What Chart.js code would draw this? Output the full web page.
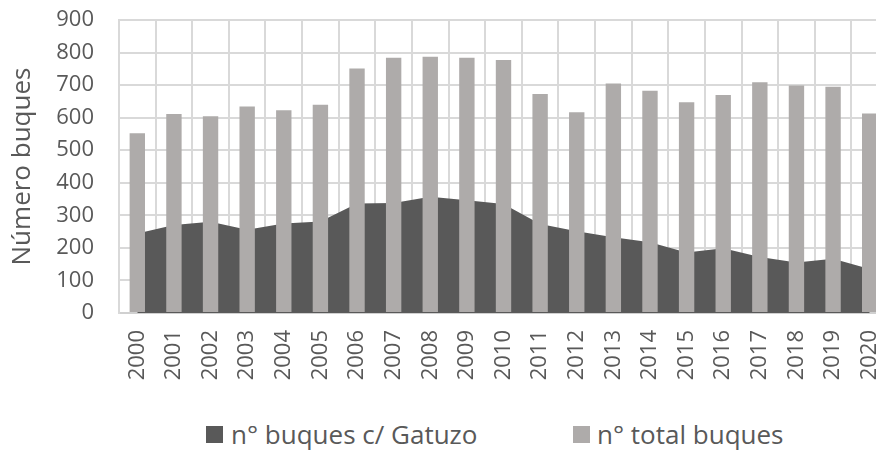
<!DOCTYPE html>
<html>
<head>
<meta charset="utf-8">
<script src="https://cdn.jsdelivr.net/npm/chart.js@4/dist/chart.umd.min.js"></script>
<style>
  html, body { margin: 0; padding: 0; background: #fff; overflow: hidden; width: 876px; height: 450px; }
  #wrap { position: relative; width: 876px; height: 450px; overflow: hidden; }
  #chart { position: absolute; left: 0; top: 0; }
  .lg { position: absolute; top: 416px; font-family: "Open Sans", sans-serif; font-size: 26px; color: #595959; white-space: nowrap; }
  .box { position: absolute; top: 426px; width: 17px; height: 17px; }
</style>
</head>
<body>
<div id="wrap">
  <canvas id="chart" width="888" height="390"></canvas>
  <span class="box" style="left:206px;background:#595959"></span>
  <span class="lg" style="left:231px">n° buques c/ Gatuzo</span>
  <span class="box" style="left:573px;background:#aeabaa"></span>
  <span class="lg" style="left:597px">n° total buques</span>
</div>
<script>
const years = ['2000', '2001', '2002', '2003', '2004', '2005', '2006', '2007', '2008', '2009', '2010',
  '2011', '2012', '2013', '2014', '2015', '2016', '2017', '2018', '2019', '2020'];
const gatuzo = [244, 270, 280, 256, 275, 281, 336, 338, 357, 346, 335, 273, 251, 233, 217, 186, 199, 172, 155, 167, 135];
const total = [552, 611, 604, 634, 623, 640, 751, 784, 787, 784, 777, 673, 617, 705, 683, 647, 670, 709, 699, 695, 613];
const yTicks = [0, 100, 200, 300, 400, 500, 600, 700, 800, 900];

const grey = '#595959';
const ctx = document.querySelector('#chart').getContext('2d');

new Chart(ctx, {
  data: {
    labels: years,
    datasets: [{
      type: 'line',
      label: 'n° buques c/ Gatuzo',
      data: gatuzo,
      borderWidth: 0,
      borderColor: '#595959',
      backgroundColor: '#595959',
      fill: 'origin',
      pointRadius: 0,
      tension: 0,
      order: 2
    }, {
      type: 'bar',
      label: 'n° total buques',
      data: total,
      backgroundColor: '#aeabaa',
      barPercentage: 0.42,
      categoryPercentage: 1,
      order: 1
    }]
  },
  options: {
    responsive: false,
    animation: false,
    layout: { padding: { top: 20, right: 0, left: 0, bottom: 0 } },
    plugins: {
      legend: { display: false },
      tooltip: { enabled: false }
    },
    scales: {
      x: {
        offset: true,
        grid: { color: '#d9d9d9', lineWidth: 2, drawTicks: false, offset: true },
        border: { color: '#d0d0d0', width: 2 },
        ticks: {
          color: grey,
          font: { family: 'Open Sans', size: 22 },
          minRotation: 90,
          maxRotation: 90,
          padding: 17,
          autoSkip: false
        },
        afterFit: s => {
          s.height = 77;
          s.paddingLeft = 0; s.paddingRight = 0; s.paddingTop = 0; s.paddingBottom = 0;
        }
      },
      y: {
        min: 0,
        max: 900,
        afterBuildTicks: s => { s.ticks = yTicks.map(v => ({ value: v })); },
        grid: { color: '#d9d9d9', lineWidth: 2, drawTicks: false },
        border: { color: '#d9d9d9', width: 2 },
        ticks: {
          color: grey,
          font: { family: 'Open Sans', size: 22 },
          padding: 25
        },
        title: {
          display: true,
          text: 'Número buques',
          color: grey,
          font: { family: 'Open Sans', size: 26 },
          padding: { top: 7, bottom: 0 }
        },
        afterFit: s => {
          s.width = 119;
          s.paddingTop = 0; s.paddingBottom = 0; s.paddingLeft = 0; s.paddingRight = 0;
        }
      }
    }
  }
});
</script>
</body>
</html>
